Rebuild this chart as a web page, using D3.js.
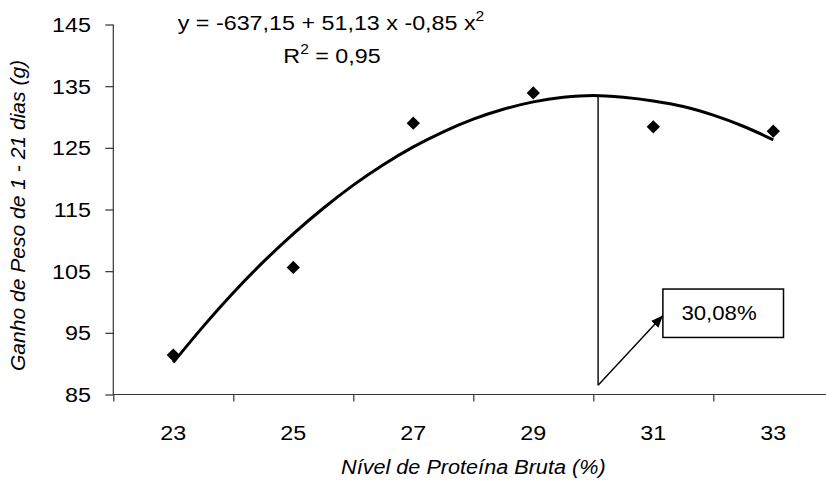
<!DOCTYPE html>
<html>
<head>
<meta charset="utf-8">
<script src="https://cdn.jsdelivr.net/npm/d3@7/dist/d3.min.js"></script>
<style>
  html, body { margin: 0; padding: 0; background: #fff; }
  svg { display: block; }
  text { font-family: "Liberation Sans", Arial, sans-serif; fill: #000; }
</style>
</head>
<body>
<svg id="chart" width="826" height="491"></svg>
<script>
// Crude protein level (%) and body weight gain 1-21 days (g)
const proteinLevels = [23, 25, 27, 29, 31, 33];
const weightGain = [91.4, 105.6, 129.0, 133.9, 128.4, 127.7];

// Quadratic trend line, sampled along the protein range
const trendLevels = [23, 23.5, 24, 24.5, 25, 25.5, 26, 26.5, 27, 27.5, 28,
                     28.5, 29, 29.5, 30, 30.5, 31, 31.5, 32, 32.5, 33];
const trendGain = [90.2, 96.05, 101.5, 106.5, 111.05, 115.2, 118.95, 122.25, 125.15, 127.6, 129.65,
                   131.25, 132.45, 133.2, 133.5, 133.2, 132.6, 131.7, 130.3, 128.5, 126.3];

const xTickValues = [22, 24, 26, 28, 30, 32, 34];
const xTickLabels = ["23", "25", "27", "29", "31", "33"];
const yTickValues = [85, 95, 105, 115, 125, 135, 145];

const equationText = "y = -637,15 + 51,13 x -0,85 x";
const r2Text = "= 0,95";
const optimumLevel = 30.08;
const optimumLabel = "30,08%";
const xTitle = "Nível de Proteína Bruta (%)";
const yTitle = "Ganho de Peso de 1 - 21 dias  (g)";

const svg = d3.select("#chart");
const STRETCH = 1.11;   // text is drawn slightly wide

const x = d3.scaleLinear().domain([22, 34]).range([113.3, 833.3]);
const y = d3.scaleLinear().domain([85, 145]).range([394.5, 24.5]);

// place a horizontally-stretched text element
function label(g, px, py, str, opts = {}) {
  const t = g.append("text")
    .attr("transform", `translate(${px},${py}) scale(${opts.sx || STRETCH},1)`)
    .attr("text-anchor", opts.anchor || "middle")
    .style("font-size", (opts.size || 21) + "px")
    .text(str);
  if (opts.italic) t.style("font-style", "italic");
  return t;
}

// Y axis
const yAxis = svg.append("g").attr("transform", `translate(${x(22)},0)`)
  .call(d3.axisLeft(y).tickValues(yTickValues).tickSize(8).tickFormat(""));
yAxis.select(".domain").attr("d", `M0,${y(145)}V${y(85)}`);
yAxis.selectAll("path, line").attr("stroke", "#333").attr("stroke-width", 1.2);
yTickValues.forEach(v => label(svg, 91, y(v) + 7.5, String(v), { anchor: "end" }));

// X axis
const xAxis = svg.append("g").attr("transform", `translate(0,${y(85)})`)
  .call(d3.axisBottom(x).tickValues(xTickValues).tickSize(7).tickFormat(""));
xAxis.select(".domain").attr("d", `M${x(22)},0H${x(34)}`);
xAxis.selectAll("path, line").attr("stroke", "#333").attr("stroke-width", 1.2);
xTickLabels.forEach(s => label(svg, x(+s), 440, s));

// Axis titles
label(svg, (x(22) + x(34)) / 2, 474, xTitle, { italic: true, size: 19.5 });
svg.append("text")
  .attr("transform", `translate(25,${(y(85) + y(145)) / 2 + 6}) rotate(-90) scale(1.08,1)`)
  .attr("text-anchor", "middle")
  .style("font-size", "19.5px").style("font-style", "italic")
  .text(yTitle);

// Trend line
const line = d3.line().x((d, i) => x(trendLevels[i])).y(d => y(d)).curve(d3.curveMonotoneX);
svg.append("path").datum(trendGain)
  .attr("d", line).attr("fill", "none")
  .attr("stroke", "#000").attr("stroke-width", 3).attr("stroke-linejoin", "round");

// Observed means
svg.append("g").selectAll("path").data(weightGain).join("path")
  .attr("transform", (d, i) => `translate(${x(proteinLevels[i])},${y(d)}) rotate(45)`)
  .attr("d", d3.symbol(d3.symbolSquare, 88))
  .attr("fill", "#000");

// Optimum level marker
const peakGain = d3.max(trendGain);
const lineBottom = 86.5;
svg.append("line")
  .attr("x1", x(optimumLevel)).attr("x2", x(optimumLevel))
  .attr("y1", y(peakGain)).attr("y2", y(lineBottom))
  .attr("stroke", "#000").attr("stroke-width", 1.4);

// Callout box and arrow
const boxX0 = 31.16, boxX1 = 33.17, boxTop = 102.1, boxBottom = 94.25;
svg.append("defs").append("marker")
  .attr("id", "arrowhead").attr("viewBox", "0 0 12 10")
  .attr("refX", 12).attr("refY", 5)
  .attr("markerWidth", 12).attr("markerHeight", 10)
  .attr("markerUnits", "userSpaceOnUse").attr("orient", "auto")
  .append("path").attr("d", "M0,0L12,5L0,10Z").attr("fill", "#000");
svg.append("line")
  .attr("x1", x(optimumLevel)).attr("y1", y(lineBottom))
  .attr("x2", x(boxX0)).attr("y2", y(97.8))
  .attr("stroke", "#000").attr("stroke-width", 1.4)
  .attr("marker-end", "url(#arrowhead)");
svg.append("rect")
  .attr("x", x(boxX0)).attr("y", y(boxTop))
  .attr("width", x(boxX1) - x(boxX0)).attr("height", y(boxBottom) - y(boxTop))
  .attr("fill", "#fff").attr("stroke", "#000").attr("stroke-width", 1.5);
label(svg, 719, 319.5, optimumLabel, { size: 20 });

// Regression equation
const eq = label(svg, 331, 30, "", { size: 21 });
eq.append("tspan").text(equationText);
eq.append("tspan").attr("dy", -9).style("font-size", "14px").text("2");
const r2 = label(svg, 332, 63, "", { size: 21 });
r2.append("tspan").text("R");
r2.append("tspan").attr("dy", -9).style("font-size", "14px").text("2");
r2.append("tspan").attr("dy", 9).text(" " + r2Text);
</script>
</body>
</html>
